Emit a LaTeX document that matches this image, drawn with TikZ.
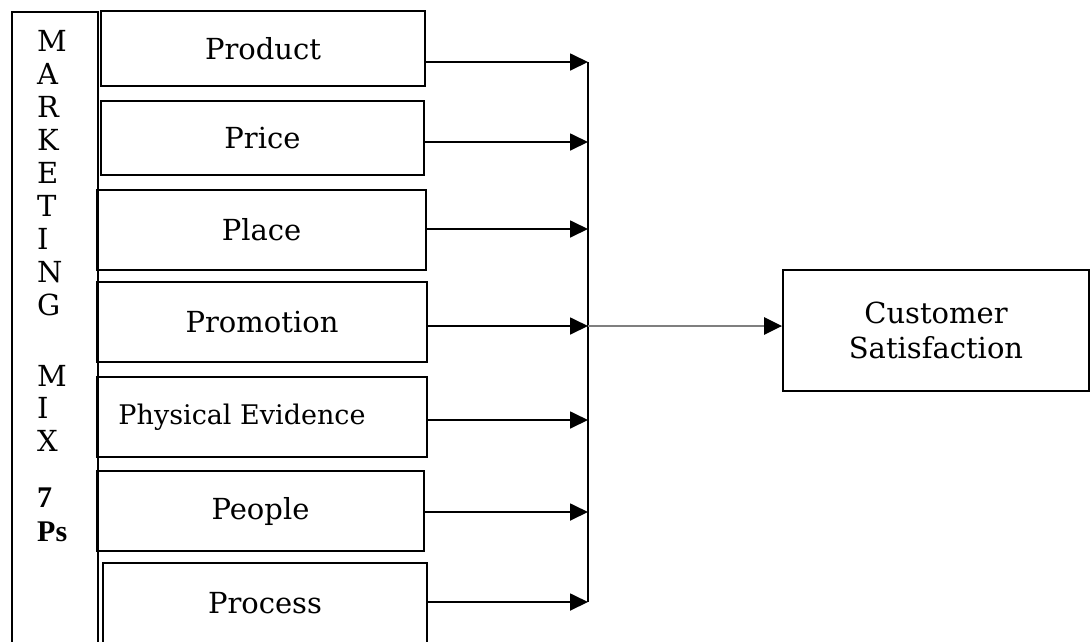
\documentclass[tikz,border=0pt]{standalone}
\usepackage{fontspec}
\setmainfont{DejaVu Serif}
\newfontfamily\boldserif{Liberation Serif}
\usetikzlibrary{arrows.meta, positioning}
\definecolor{mxgray}{HTML}{7F7F7F}

\begin{document}
\begin{tikzpicture}[
  x=1pt, y=-1pt,
  every node/.style={font=\fontsize{29}{35}\selectfont},
  pbox/.style={rectangle, draw, line width=1.8pt, inner sep=0pt, align=center},
  letter/.style={anchor=west, inner sep=0pt},
  feed/.style={-{Triangle[length=18pt, width=17pt]}, line width=1.8pt},
  outarr/.style={-{Triangle[length=18pt, width=17pt, color=black]}, line width=2.5pt, mxgray},
]
\useasboundingbox (0,0) rectangle (1090,641);

% Marketing mix column
\node[pbox, anchor=north west, minimum width=86pt, minimum height=640pt] (mixbox) at (11,11) {};
\foreach \ch/\yy [count=\i] in {M/41, A/74, R/107, K/140, E/173, T/206, I/239, N/272, G/305, M/376, I/408, X/441}
  \node[letter] (mk\i) at (37,\yy) {\ch};
\node[letter, font=\boldserif\bfseries\fontsize{30}{36}\selectfont] (seven) at (37,498) {7};
\node[letter, font=\boldserif\bfseries\fontsize{30}{36}\selectfont] (ps) at (37,532) {Ps};

% The seven Ps
\node[pbox, minimum width=324pt, minimum height=75pt] (product) at (263,48.5) {Product};
\node[pbox, minimum width=323pt, minimum height=74pt] (price) at (262.5,138) {Price};
\node[pbox, minimum width=329pt, minimum height=80pt] (place) at (261.5,230) {Place};
\node[pbox, minimum width=330pt, minimum height=80pt] (promotion) at (262,322) {Promotion};
\node[pbox, minimum width=330pt, minimum height=80pt, font=\fontsize{27}{32}\selectfont] (physical) at (262,417) {Physical Evidence\hspace*{40pt}};
\node[pbox, minimum width=327pt, minimum height=80pt] (people) at (260.5,511) {People};
\node[pbox, minimum width=324pt, minimum height=80pt] (process) at (265,603) {Process};

% Outcome
\node[pbox, minimum width=306pt, minimum height=121pt] (cust) at (936,330.5) {Customer\\Satisfaction};

% Collector line
\coordinate (b1) at (588,62);
\coordinate (b2) at (588,142);
\coordinate (b3) at (588,229);
\coordinate (b4) at (588,326);
\coordinate (b5) at (588,420);
\coordinate (b6) at (588,512);
\coordinate (b7) at (588,602);
\draw[line width=1.8pt] (b1) -- (b7);

% Feeds
\draw[feed] (product.east |- b1) -- (b1);
\draw[feed] (price.east |- b2) -- (b2);
\draw[feed] (place.east |- b3) -- (b3);
\draw[feed] (promotion.east |- b4) -- (b4);
\draw[feed] (physical.east |- b5) -- (b5);
\draw[feed] (people.east |- b6) -- (b6);
\draw[feed] (process.east |- b7) -- (b7);

\draw[outarr] (b4) -- (b4 -| cust.west);

\end{tikzpicture}
\end{document}
